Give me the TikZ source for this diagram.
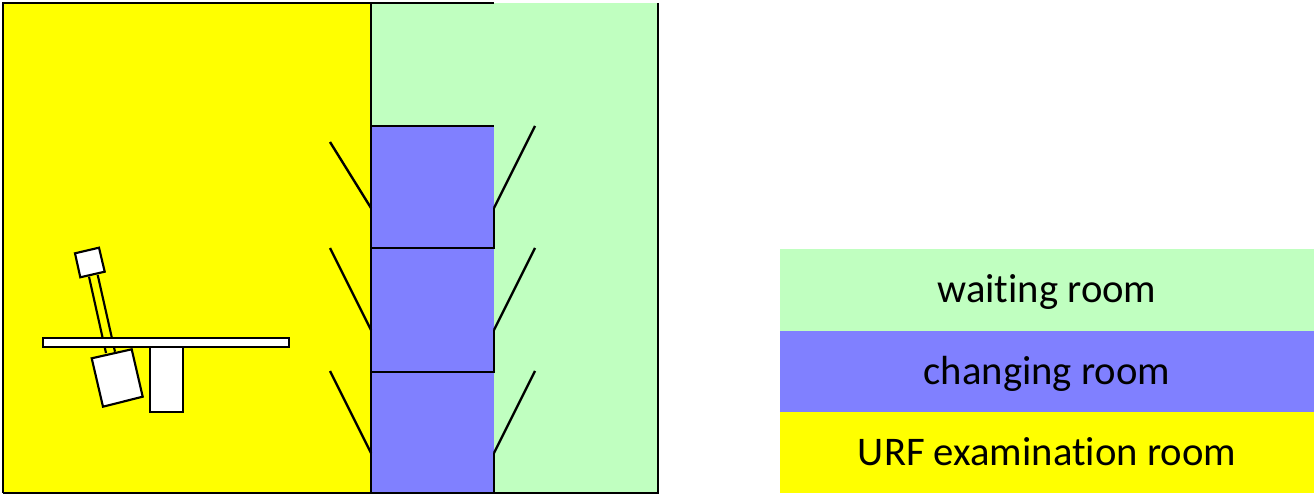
\documentclass[tikz,border=0pt]{standalone}
\usepackage{fontspec}
\setmainfont[Ligatures=CommonOff]{Carlito}
\usetikzlibrary{positioning}
\definecolor{waiting}{RGB}{192,255,192}
\definecolor{changing}{RGB}{128,128,255}
\definecolor{urf}{RGB}{255,255,0}
\tikzset{
  wall/.style={draw=black, line width=2.1pt},
  door/.style={draw=black, line width=1.8pt},
  equip/.style={draw=black, fill=white, line width=1.6pt},
  rod/.style={draw=black, line width=1.6pt},
  legend/.style={minimum width=400.5pt, minimum height=61pt, inner sep=0pt, outer sep=0pt, text height=22pt, text depth=2.8pt, font=\fontsize{30.5}{34}\selectfont, anchor=north west}
}
\begin{document}
\begin{tikzpicture}[x=0.75pt, y=-0.75pt]
  \useasboundingbox (0,0) rectangle (1314,495);
  % rooms
  \fill[urf] (3,3) rectangle (371,493);
  \fill[waiting] (371,3) rectangle (658,493);
  \fill[changing] (371,126) rectangle (494,493);
  % walls
  \draw[wall] (3,493) -- (3,3) -- (494,3);
  \draw[wall] (371,3) -- (371,493);
  \draw[wall] (371,126) -- (494,126);
  \draw[wall] (658,3) -- (658,493) -- (3,493);
  \draw[wall] (371,248) -- (494,248) -- (494,208);
  \draw[wall] (371,372) -- (494,372) -- (494,330);
  \draw[wall] (494,493) -- (494,453);
  % doors
  \coordinate (la) at (371,208); \coordinate (lb) at (371,330); \coordinate (lc) at (371,453);
  \coordinate (ra) at (494,208); \coordinate (rb) at (494,330); \coordinate (rc) at (494,453);
  \draw[door] (la) -- (330,142);
  \draw[door] (lb) -- (330,248);
  \draw[door] (lc) -- (330,371);
  \draw[door] (ra) -- (535,126);
  \draw[door] (rb) -- (535,248);
  \draw[door] (rc) -- (535,371);
  % equipment
  \draw[rod] (89,276.7) -- (106,353);
  \draw[rod] (97.7,275) -- (115,351.7);
  \draw[equip] (75,253.3) -- (99,247.7) -- (104.7,271.7) -- (80.3,277.3) -- cycle;
  \draw[equip] (91.7,358.3) -- (131.7,349.3) -- (142.7,396.7) -- (103,406.7) -- cycle;
  \draw[equip] (149.7,346) rectangle (182.7,412.3);
  \draw[equip] (43.3,338.3) rectangle (289.3,347);
  % legend
  \node[legend, fill=waiting] (waitingroom) at (780,249.5) {waiting room};
  \node[legend, fill=changing, below=-0.1pt of waitingroom] (changingroom) {changing room};
  \node[legend, fill=urf, below=-0.1pt of changingroom] (urfroom) {URF examination room};
\end{tikzpicture}
\end{document}
